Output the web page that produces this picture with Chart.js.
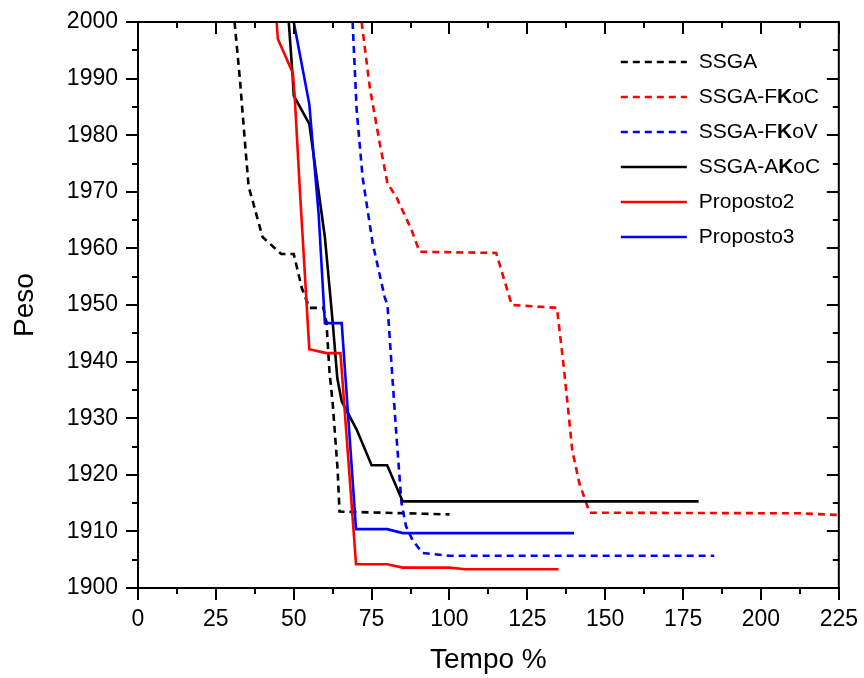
<!DOCTYPE html>
<html>
<head>
<meta charset="utf-8">
<script src="https://cdn.jsdelivr.net/npm/chart.js@4/dist/chart.umd.min.js"></script>
<style>
html,body{margin:0;padding:0;background:#fff;}
</style>
</head>
<body>
<canvas id="grafico" width="864" height="678"></canvas>
<script>
// dados (Tempo %, Peso)
const nomes = ["SSGA", "SSGA-FKoC", "SSGA-FKoV", "SSGA-AKoC", "Proposto2", "Proposto3"];

const ssgaTempo = [31, 32.7, 34.3, 35.5, 37.5, 40, 46, 50, 52.6, 55, 59.5, 60.5, 61.5, 62.5, 64.1, 64.7, 100];
const ssgaPeso  = [2000, 1990, 1979, 1971, 1967, 1962, 1959, 1959, 1953, 1949.5, 1949.5, 1947, 1938, 1932.7, 1920.8, 1913.5, 1913];

const fkocTempo = [71.8, 74.4, 77.6, 80.1, 83, 87.8, 90.4, 115, 120, 134.5, 136.5, 137.8, 139.4, 141.7, 145, 212, 225];
const fkocPeso  = [2000, 1988.5, 1978.6, 1971.5, 1969, 1963.3, 1959.4, 1959.2, 1950, 1949.5, 1940, 1933.2, 1924.4, 1918.5, 1913.3, 1913.2, 1912.9];

const fkovTempo = [68.9, 70.2, 72.1, 75.3, 79.2, 80.1, 81.7, 83, 84.6, 86, 88.1, 91.3, 100, 185];
const fkovPeso  = [2000, 1984.5, 1972.6, 1961, 1951.4, 1950, 1937, 1926.7, 1915, 1911, 1908.5, 1906.2, 1905.7, 1905.7];

const akocTempo = [48.4, 49.7, 50, 55, 58, 60, 62.5, 64, 65.4, 70.2, 75, 80, 85, 180];
const akocPeso  = [2000, 1990, 1987, 1982, 1970, 1962, 1947, 1937, 1933, 1928, 1921.7, 1921.7, 1915.3, 1915.3];

const p2Tempo = [44.5, 44.9, 49.7, 50.3, 52, 55, 60.5, 65, 70, 80, 85, 100, 105, 135];
const p2Peso  = [2000, 1997, 1991, 1987, 1970, 1942.2, 1941.5, 1941.5, 1904.2, 1904.2, 1903.6, 1903.6, 1903.3, 1903.3];

const p3Tempo = [50, 55, 56.7, 58, 60, 65.4, 70, 80, 85, 140];
const p3Peso  = [2000, 1985.5, 1974.4, 1966, 1946.8, 1946.8, 1910.4, 1910.4, 1909.7, 1909.7];

const tempos = [ssgaTempo, fkocTempo, fkovTempo, akocTempo, p2Tempo, p3Tempo];
const pesos = [ssgaPeso, fkocPeso, fkovPeso, akocPeso, p2Peso, p3Peso];

const cores = ["#000000", "#ff0000", "#0000ff", "#000000", "#ff0000", "#0000ff"];
const tracos = [[7, 5], [7, 5], [7, 5], [], [], []];

const fonte = "'Liberation Sans', Arial, Helvetica, sans-serif";

function pontos(xs, ys){
    return xs.map((x, i) => ({x: x, y: ys[i]}));
}

const datasets = nomes.map((nome, i) => ({
    label: nome,
    data: pontos(tempos[i], pesos[i]),
    borderColor: cores[i],
    borderWidth: 2.6,
    borderDash: tracos[i],
    pointRadius: 0,
    tension: 0,
    fill: false,
    order: nomes.length - i
}));

// ticks menores e ticks do topo/direita + moldura
const ticksExtra = {
    id: "ticksExtra",
    afterDraw(chart){
        const {ctx, chartArea: a, scales} = chart;
        const x = scales.x, y = scales.y;
        ctx.save();
        ctx.strokeStyle = "#000";
        ctx.lineWidth = 2;
        ctx.beginPath();
        ctx.moveTo(a.left, a.top);
        ctx.lineTo(a.right, a.top);
        ctx.lineTo(a.right, a.bottom);
        ctx.stroke();

        ctx.beginPath();
        for(let v = 0; v <= 225; v += 12.5){
            const px = Math.round(x.getPixelForValue(v));
            const maior = v % 25 === 0;
            ctx.moveTo(px, a.top);
            ctx.lineTo(px, a.top + (maior ? 12 : 6));
            if(!maior){
                ctx.moveTo(px, a.bottom);
                ctx.lineTo(px, a.bottom + 6);
            }
        }
        for(let v = 1900; v <= 2000; v += 5){
            const py = Math.round(y.getPixelForValue(v));
            const maior = v % 10 === 0;
            ctx.moveTo(a.right, py);
            ctx.lineTo(a.right - (maior ? 12 : 6), py);
            if(!maior){
                ctx.moveTo(a.left, py);
                ctx.lineTo(a.left - 6, py);
            }
        }
        ctx.stroke();
        ctx.restore();
    }
};

// legenda com o K em negrito
const legenda = {
    id: "legenda",
    afterDraw(chart){
        const ctx = chart.ctx;
        const a = chart.chartArea;
        chart.data.datasets.forEach((ds, i) => {
            const y = a.top + 40 + i * 35;
            const x0 = a.right - 218;
            ctx.save();
            ctx.strokeStyle = ds.borderColor;
            ctx.lineWidth = ds.borderWidth;
            ctx.setLineDash(ds.borderDash);
            ctx.beginPath();
            ctx.moveTo(x0, y);
            ctx.lineTo(x0 + 66, y);
            ctx.stroke();
            ctx.setLineDash([]);
            ctx.fillStyle = "#000";
            ctx.textBaseline = "middle";
            let x = x0 + 78;
            for(const ch of ds.label){
                ctx.font = (ch === "K" ? "bold " : "") + "21px " + fonte;
                ctx.fillText(ch, x, y);
                x += ctx.measureText(ch).width;
            }
            ctx.restore();
        });
    }
};

new Chart(document.getElementById("grafico"), {
    type: "line",
    data: {datasets: datasets},
    options: {
        responsive: false,
        animation: false,
        layout: {padding: {left: 0, right: 24, top: 22, bottom: 0}},
        plugins: {
            legend: {display: false},
            tooltip: {enabled: false}
        },
        scales: {
            x: {
                type: "linear",
                min: 0,
                max: 225,
                afterFit(scale){ scale.height = 90; },
                ticks: {stepSize: 25, color: "#000", padding: 6, maxRotation: 0,
                        callback: v => String(v),
                        font: {family: fonte, size: 23}},
                grid: {drawOnChartArea: false, drawTicks: true, tickLength: 12, color: "#000", lineWidth: 2},
                border: {display: true, color: "#000", width: 2},
                title: {display: true, text: "Tempo %", color: "#000",
                        font: {family: fonte, size: 28}, padding: {top: 0, bottom: 1}}
            },
            y: {
                type: "linear",
                min: 1900,
                max: 2000,
                afterFit(scale){ scale.width = 138; },
                ticks: {stepSize: 10, color: "#000", padding: 8,
                        callback: v => String(v),
                        font: {family: fonte, size: 23}},
                grid: {drawOnChartArea: false, drawTicks: true, tickLength: 12, color: "#000", lineWidth: 2},
                border: {display: true, color: "#000", width: 2},
                title: {display: true, text: "Peso", color: "#000",
                        font: {family: fonte, size: 28}, padding: {top: 8, bottom: 0}}
            }
        }
    },
    plugins: [ticksExtra, legenda]
});
</script>
</body>
</html>
